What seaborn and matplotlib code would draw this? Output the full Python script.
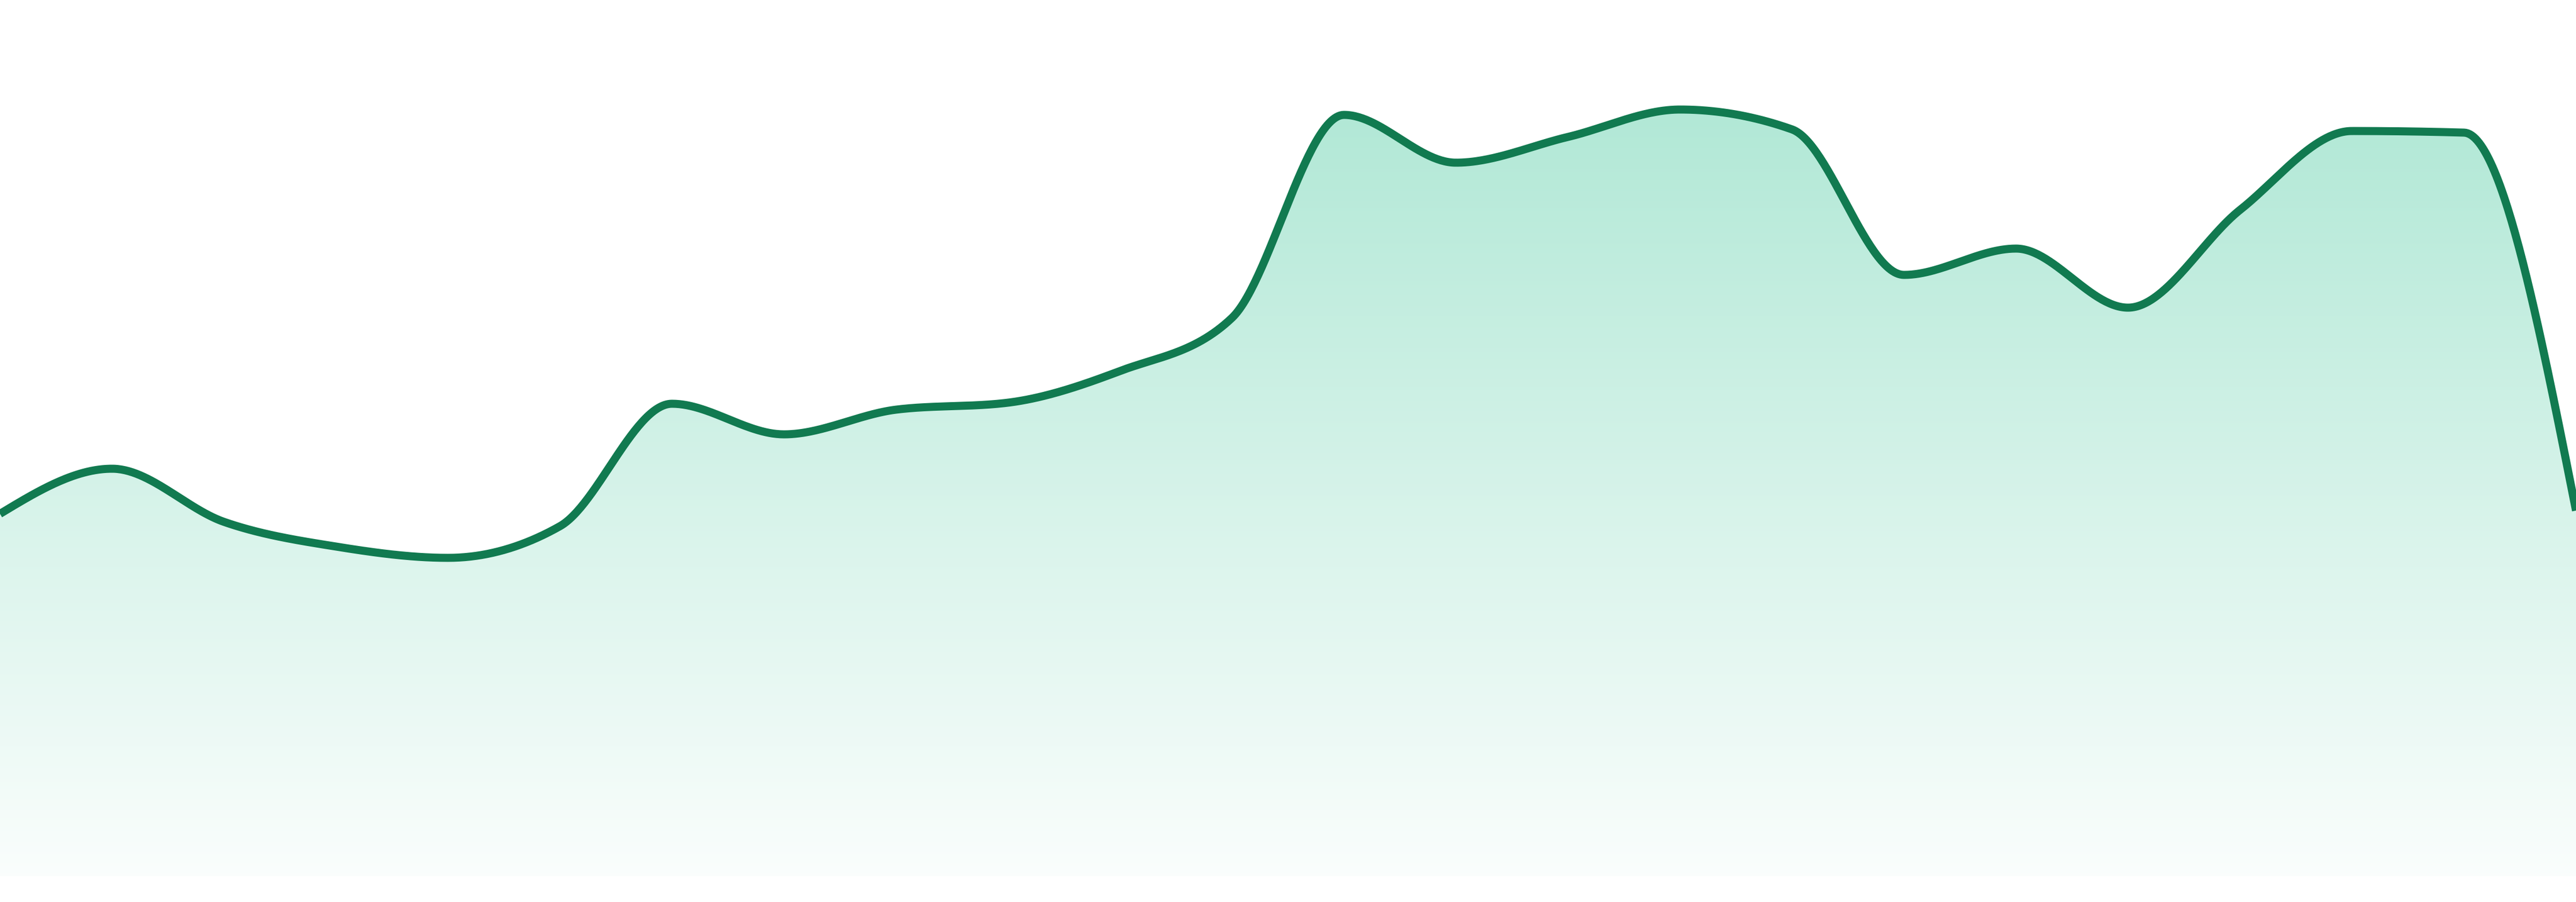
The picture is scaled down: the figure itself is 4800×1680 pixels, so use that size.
import numpy as np
import pandas as pd
import matplotlib
matplotlib.use("Agg")
import matplotlib.pyplot as plt
from matplotlib.patches import Polygon
from matplotlib.colors import to_rgb
import seaborn as sns

# ---- data ----
periods = list(range(24))
values = [67.5, 75.9, 66.0, 61.4, 59.3, 65.2, 88.0, 82.3, 86.9, 88.2, 94.1, 104.0,
          141.8, 132.9, 137.7, 142.8, 139.1, 112.0, 116.9, 105.9, 124.1, 138.8, 138.5, 68.1]

LINE_COLOR = "#117a50"
FILL_COLOR = "#10b981"


def monotone_x(x, y, n=60):
    """Monotone cubic interpolation (same scheme as d3.curveMonotoneX)."""
    x = np.asarray(x, float)
    y = np.asarray(y, float)
    h = np.diff(x)
    s = np.diff(y) / h
    sgn = lambda v: -1.0 if v < 0 else 1.0
    t = np.zeros_like(y)
    for i in range(1, len(x) - 1):
        h0, h1 = h[i - 1], h[i]
        s0, s1 = s[i - 1], s[i]
        p = (s0 * h1 + s1 * h0) / (h0 + h1)
        t[i] = (sgn(s0) + sgn(s1)) * min(abs(s0), abs(s1), 0.5 * abs(p))
    t[0] = (3 * s[0] - t[1]) / 2
    t[-1] = (3 * s[-1] - t[-2]) / 2
    xs, ys = [], []
    for i in range(len(h)):
        u = np.linspace(0, 1, n, endpoint=(i == len(h) - 1))
        h00 = 2 * u**3 - 3 * u**2 + 1
        h10 = u**3 - 2 * u**2 + u
        h01 = -2 * u**3 + 3 * u**2
        h11 = u**3 - u**2
        xs.append(x[i] + u * h[i])
        ys.append(h00 * y[i] + h10 * h[i] * t[i] + h01 * y[i + 1] + h11 * h[i] * t[i + 1])
    return np.concatenate(xs), np.concatenate(ys)


sns.set_theme(style="white")

fig = plt.figure(figsize=(16, 5.6), dpi=300)
fig.patch.set_facecolor("white")
ax = fig.add_axes([0, 0, 1, 1])
ax.set_facecolor("white")

xs, ys = monotone_x(periods, values)
df = pd.DataFrame({"period": xs, "value": ys})

y_lo, y_hi = -4.8, 163.2
ax.set_xlim(periods[0], periods[-1])
ax.set_ylim(y_lo, y_hi)

# gradient fill under the curve
top_val = max(values) + 2.4
N = 600
v = np.linspace(y_hi, 0, N)
alpha = 0.02 + (0.33 - 0.02) * np.clip(v / top_val, 0, None)
base = np.array(to_rgb(FILL_COLOR))
rgb = 1 - alpha[:, None] * (1 - base[None, :])
img = np.concatenate([rgb, np.ones((N, 1))], axis=1).reshape(N, 1, 4)
im = ax.imshow(img, extent=[periods[0], periods[-1], 0, y_hi], aspect="auto",
               interpolation="bilinear", zorder=1, origin="upper")
verts = np.column_stack([np.r_[xs, xs[::-1]], np.r_[ys, np.zeros_like(ys)]])
clip = Polygon(verts, closed=True, facecolor="none", edgecolor="none",
               transform=ax.transData)
ax.add_patch(clip)
im.set_clip_path(clip)

# line
sns.lineplot(data=df, x="period", y="value", color=LINE_COLOR, linewidth=3.6,
             sort=False, estimator=None, ax=ax, zorder=3)
for ln in ax.get_lines():
    ln.set_solid_capstyle("butt")
    ln.set_solid_joinstyle("round")

ax.set_xlim(periods[0], periods[-1])
ax.set_ylim(y_lo, y_hi)
ax.axis("off")

fig.savefig("out.png", dpi=300, facecolor="white")
